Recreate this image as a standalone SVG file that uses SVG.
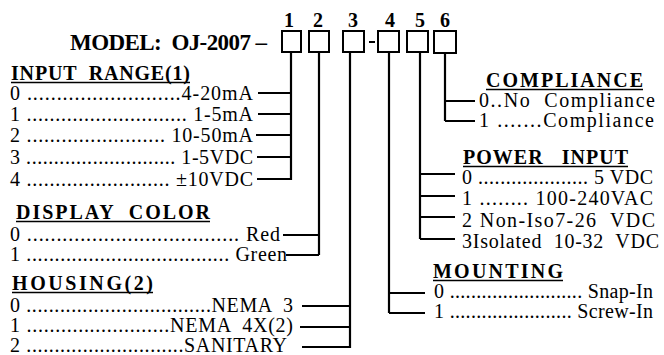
<svg xmlns="http://www.w3.org/2000/svg" width="664" height="355" viewBox="0 0 664 355">
<style>
text{font-family:"Liberation Serif","Times New Roman",serif;fill:#000;white-space:pre}
.t{font-size:23px;font-weight:bold}
.n{font-size:20px;font-weight:bold;text-anchor:middle}
.h{font-size:20px;font-weight:bold}
.r{font-size:20px}
.u{stroke:#000;stroke-width:1.5}
.box{fill:#fff;stroke:#000;stroke-width:2}
.c{fill:none;stroke:#000;stroke-width:2.2}
</style>
<rect width="664" height="355" fill="#fff"/>
<g id="title">
<text class="t" x="70" y="50" textLength="197" lengthAdjust="spacing">MODEL:  OJ-2007 –</text>
</g>
<g id="digits">
<text class="n" x="289" y="27">1</text>
<text class="n" x="318" y="27">2</text>
<text class="n" x="353" y="27">3</text>
<text class="n" x="390" y="27">4</text>
<text class="n" x="420" y="27">5</text>
<text class="n" x="445" y="27">6</text>
</g>
<g id="box1"><rect class="box" x="282" y="31" width="19" height="21"/></g>
<g id="box2"><rect class="box" x="309" y="31" width="20" height="21"/></g>
<g id="box3"><rect class="box" x="343" y="31" width="21" height="21"/></g>
<g id="sep"><line x1="369" y1="42" x2="375" y2="42" stroke="#000" stroke-width="2"/></g>
<g id="box4"><rect class="box" x="378" y="31" width="21" height="21"/></g>
<g id="box5"><rect class="box" x="407" y="31" width="21" height="21"/></g>
<g id="box6"><rect class="box" x="434" y="31" width="22" height="22"/></g>

<g id="input-range">
<text class="h" x="11" y="80" textLength="179" lengthAdjust="spacing">INPUT  RANGE(1)</text>
<line class="u" x1="11" y1="82.5" x2="190" y2="82.5"/>
<text class="r" x="10" y="100" textLength="243" lengthAdjust="spacing">0 ..........................4-20mA</text>
<text class="r" x="10" y="121" textLength="243" lengthAdjust="spacing">1 ............................ 1-5mA</text>
<text class="r" x="10" y="142" textLength="243" lengthAdjust="spacing">2 ........................ 10-50mA</text>
<text class="r" x="10" y="164" textLength="243" lengthAdjust="spacing">3 ........................... 1-5VDC</text>
<text class="r" x="10" y="186" textLength="243" lengthAdjust="spacing">4 ......................... ±10VDC</text>
</g>
<g id="display-color">
<text class="h" x="16" y="219" textLength="194" lengthAdjust="spacing">DISPLAY  COLOR</text>
<line class="u" x1="16" y1="221.5" x2="210" y2="221.5"/>
<text class="r" x="10" y="241" textLength="270" lengthAdjust="spacing">0 .................................... Red</text>
<text class="r" x="10" y="261" textLength="277" lengthAdjust="spacing">1 .................................... Green</text>
</g>
<g id="housing">
<text class="h" x="12" y="290" textLength="141" lengthAdjust="spacing">HOUSING(2)</text>
<line class="u" x1="12" y1="292.5" x2="153" y2="292.5"/>
<text class="r" x="10" y="312" textLength="283" lengthAdjust="spacing">0 .................................NEMA  3</text>
<text class="r" x="10" y="332" textLength="283" lengthAdjust="spacing">1 .........................NEMA  4X(2)</text>
<text class="r" x="10" y="352" textLength="277" lengthAdjust="spacing">2 ............................SANITARY</text>
</g>
<g id="compliance">
<text class="h" x="486" y="87" textLength="157" lengthAdjust="spacing">COMPLIANCE</text>
<line class="u" x1="486" y1="89.5" x2="643" y2="89.5"/>
<text class="r" x="479" y="107" textLength="176" lengthAdjust="spacing">0..No  Compliance</text>
<text class="r" x="479" y="127" textLength="175" lengthAdjust="spacing">1 .......Compliance</text>
</g>
<g id="power-input">
<text class="h" x="463" y="164" textLength="165" lengthAdjust="spacing">POWER   INPUT</text>
<line class="u" x1="463" y1="166.5" x2="628" y2="166.5"/>
<text class="r" x="462" y="184" textLength="191" lengthAdjust="spacing">0 .................... 5 VDC</text>
<text class="r" x="462" y="205" textLength="191" lengthAdjust="spacing">1 ........ 100-240VAC</text>
<text class="r" x="462" y="227" textLength="193" lengthAdjust="spacing">2 Non-Iso7-26  VDC</text>
<text class="r" x="462" y="248" textLength="197" lengthAdjust="spacing">3Isolated  10-32  VDC</text>
</g>
<g id="mounting">
<text class="h" x="433" y="278" textLength="130" lengthAdjust="spacing">MOUNTING</text>
<line class="u" x1="433" y1="280.5" x2="563" y2="280.5"/>
<text class="r" x="434" y="298" textLength="219" lengthAdjust="spacing">0 ......................... Snap-In</text>
<text class="r" x="434" y="318" textLength="219" lengthAdjust="spacing">1 ....................... Screw-In</text>
</g>

<g id="connectors">
<path class="c" d="M291 52V180M258 93H291M258 114H291M256 135H291M257 157H291M257 179H291"/>
<path class="c" d="M319 52V255M283 235H319M286 255H319"/>
<path class="c" d="M350 52V348M302 306H350M300 327H350M302 347H350"/>
<path class="c" d="M389 52V313M389 293H425M389 313H425"/>
<path class="c" d="M420 52V239M420 174H455M420 196H455M420 217H455M420 239H455"/>
<path class="c" d="M445 53V121M445 101H475M445 121H475"/>
</g>
</svg>
